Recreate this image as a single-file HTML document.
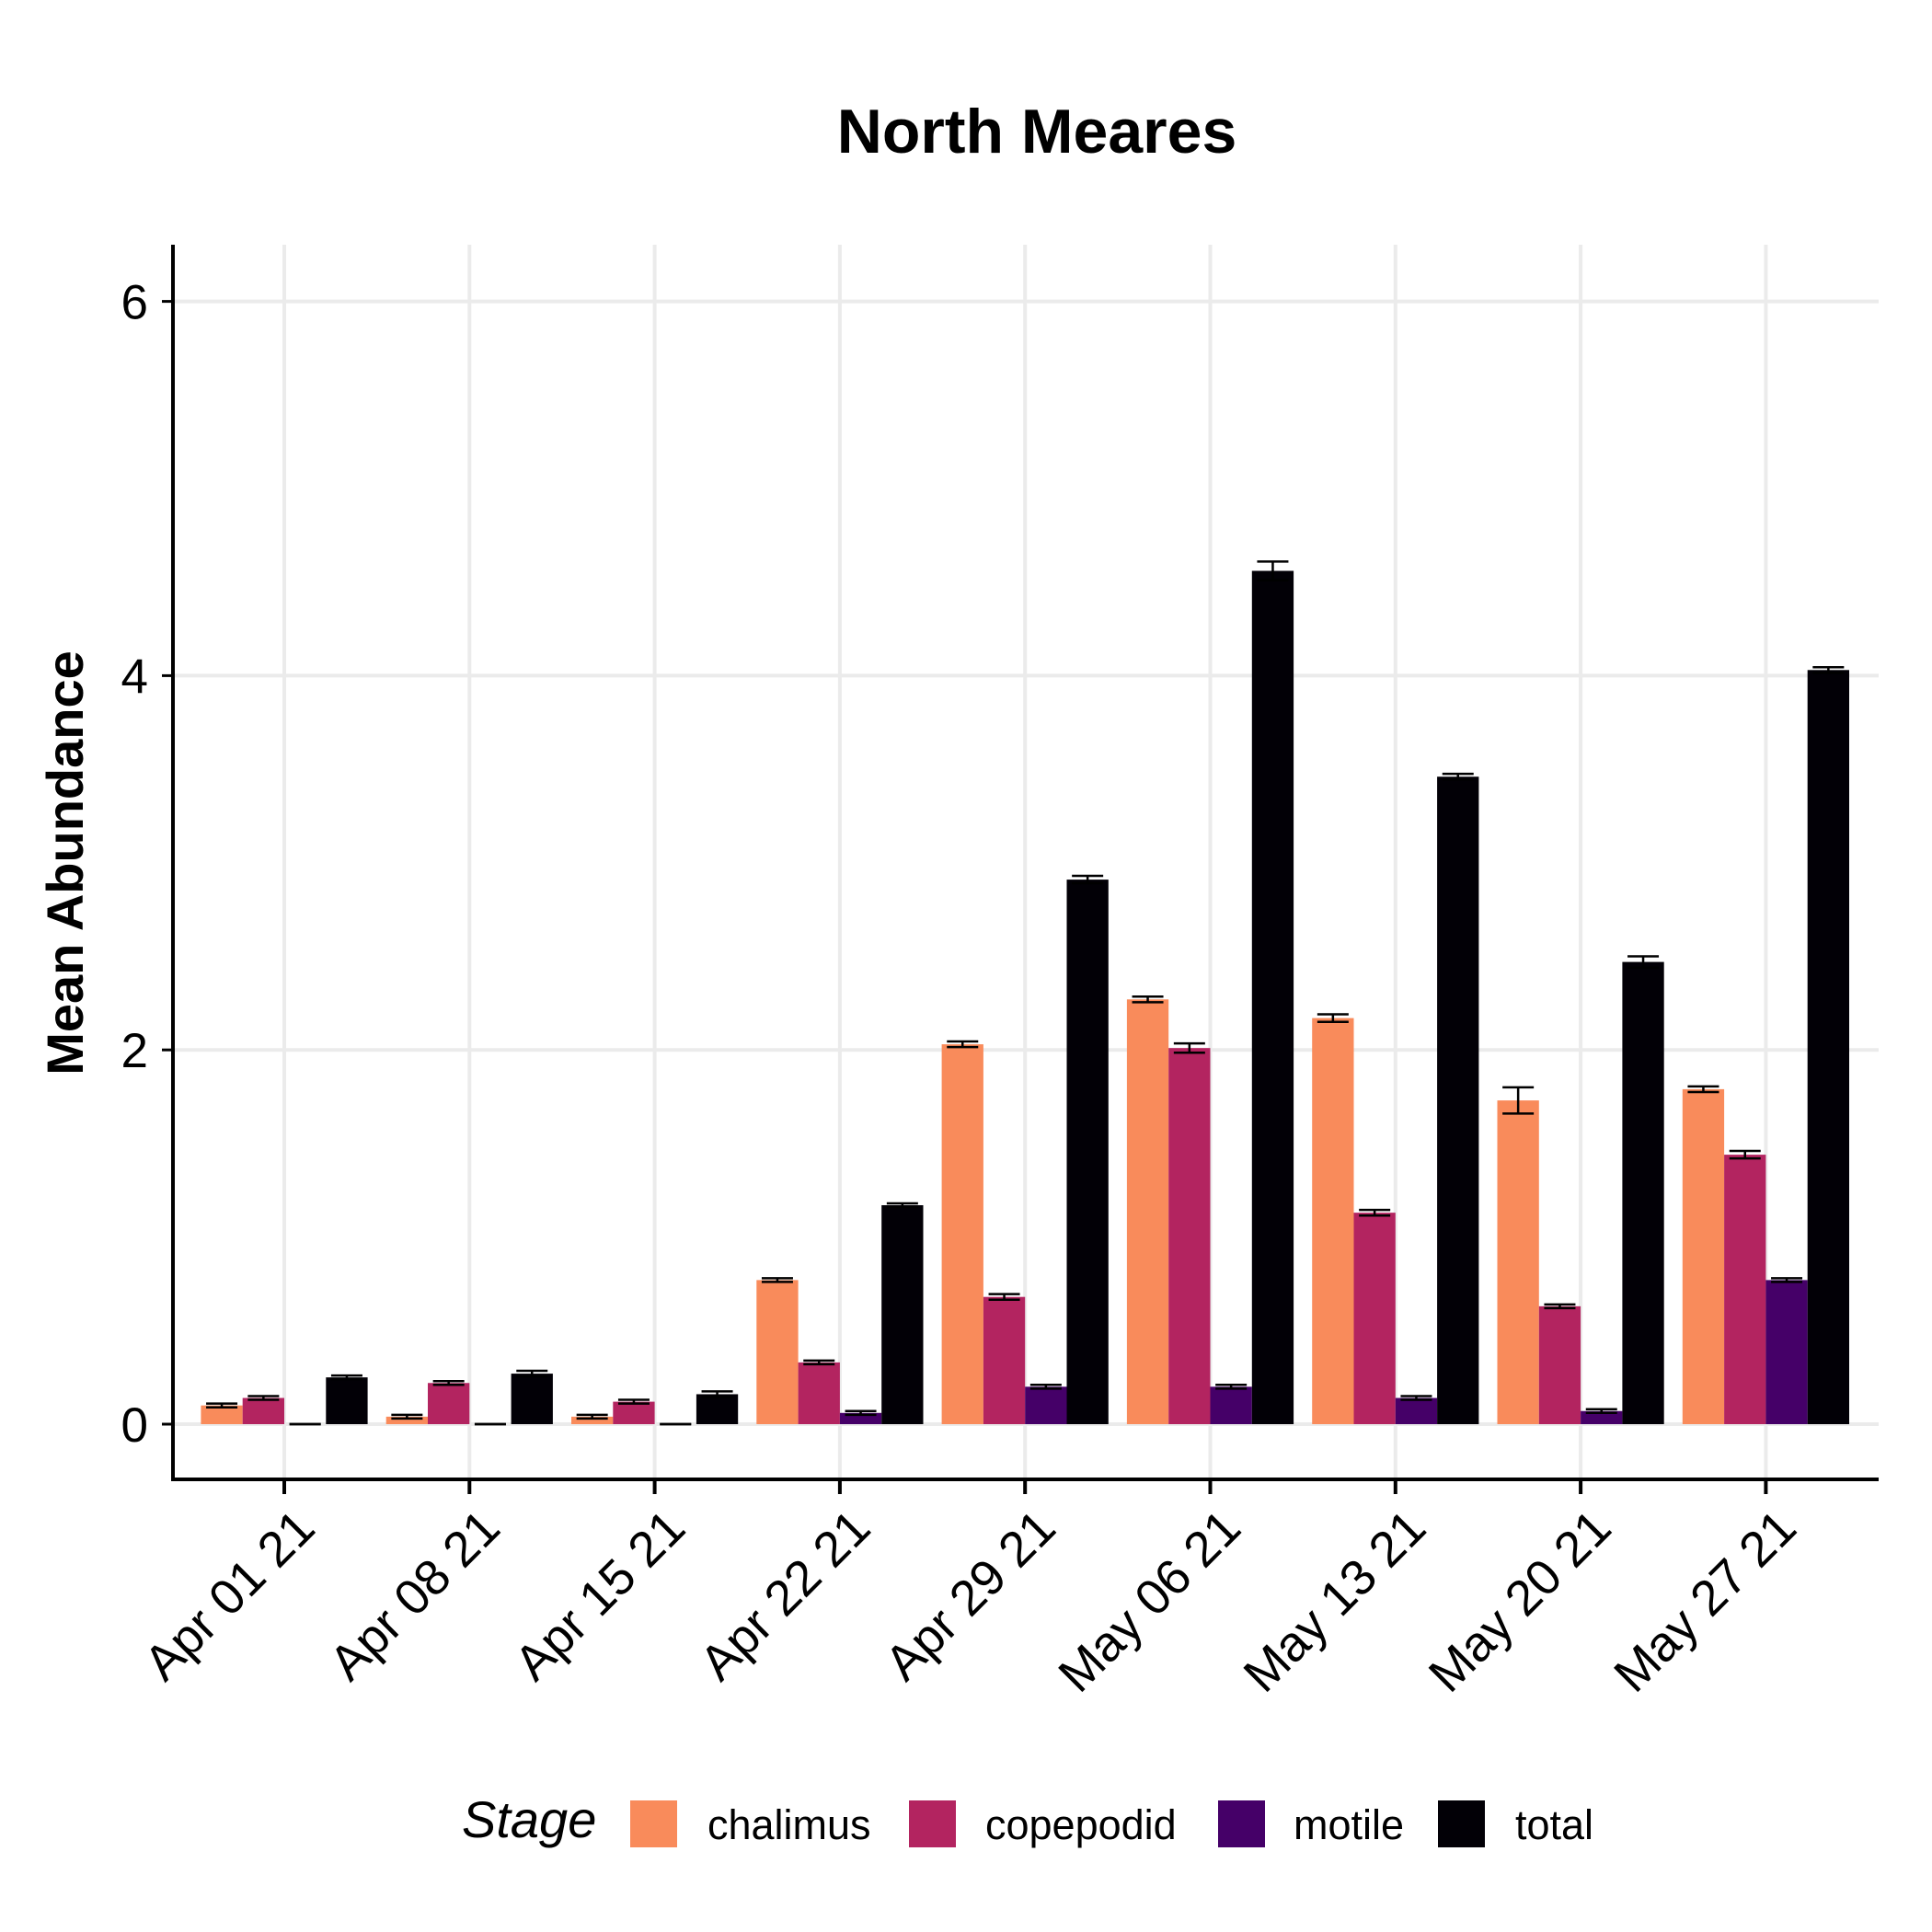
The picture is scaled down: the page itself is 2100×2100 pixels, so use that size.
<!DOCTYPE html>
<html><head><meta charset="utf-8"><style>
html,body{margin:0;padding:0;background:#fff;}
svg{display:block;font-family:"Liberation Sans",Arial,sans-serif;}
</style></head><body>
<svg id="chart" width="2100" height="2100" viewBox="0 0 2100 2100">
<text x="1127" y="166" text-anchor="middle" font-size="68" font-weight="bold">North Meares</text>
<text transform="translate(90,938) rotate(-90)" text-anchor="middle" font-size="56" font-weight="bold">Mean Abundance</text>
<g id="grid"></g><g id="bars"></g><g id="axes"></g>
<g id="legend">
<text x="502" y="1997" font-size="56" font-style="italic">Stage</text>
</g>
</svg>
<script>
const categories=["Apr 01 21","Apr 08 21","Apr 15 21","Apr 22 21","Apr 29 21","May 06 21","May 13 21","May 20 21","May 27 21"];
const seriesNames=["chalimus","copepodid","motile","total"];
const chalimus=[0.10,0.04,0.04,0.77,2.03,2.27,2.17,1.73,1.79];
const copepodid=[0.14,0.22,0.12,0.33,0.68,2.01,1.13,0.63,1.44];
const motile=[0,0,0,0.06,0.20,0.20,0.14,0.07,0.77];
const total=[0.25,0.27,0.16,1.17,2.91,4.56,3.46,2.47,4.03];
const errChalimus=[0.01,0.01,0.01,0.01,0.015,0.015,0.02,0.07,0.015];
const errCopepodid=[0.01,0.01,0.01,0.01,0.015,0.025,0.015,0.01,0.02];
const errMotile=[0,0,0,0.01,0.01,0.01,0.01,0.01,0.01];
const errTotal=[0.01,0.015,0.015,0.01,0.02,0.05,0.015,0.03,0.015];
const yTicks=[0,2,4,6];
const colors=["#F98B5B","#B32460","#450068","#020006"];
const NS="http://www.w3.org/2000/svg";
const X0=188,X1=2042,Ytop=266,Ybot=1608;
const y=v=>1548-v*203.4;
const xc=i=>309+i*201.3;
const bw=45.3;
function mk(t,a,p){const e=document.createElementNS(NS,t);for(const k in a)e.setAttribute(k,a[k]);p.appendChild(e);return e;}
const grid=document.getElementById('grid'),bars=document.getElementById('bars'),axes=document.getElementById('axes'),legend=document.getElementById('legend');
yTicks.forEach(t=>{
 const l=mk('line',{x1:X0,x2:X1,y1:y(t),y2:y(t),stroke:'#ebebeb','stroke-width':4},grid);
 
 
 const tk=mk('line',{x1:X0-12,x2:X0,y1:y(t),y2:y(t),stroke:'#000','stroke-width':3},axes);
 
 
 const tx=mk('text',{x:X0-27,y:y(t)+19,'text-anchor':'end','font-size':53},axes);
 tx.textContent=t;
 
 
});
categories.forEach((c,i)=>{
 const l=mk('line',{x1:xc(i),x2:xc(i),y1:Ytop,y2:Ybot,stroke:'#ebebeb','stroke-width':4},grid);
 
 
 const tk=mk('line',{x1:xc(i),x2:xc(i),y1:Ybot,y2:Ybot+16,stroke:'#000','stroke-width':4},axes);
 
 
 const tx=mk('text',{x:0,y:0,'text-anchor':'end','font-size':54,transform:`translate(${xc(i)+36},${Ybot+56}) rotate(-45)`},axes);
 tx.textContent=c;
 
 
});
const series=[chalimus,copepodid,motile,total];
const errs=[errChalimus,errCopepodid,errMotile,errTotal];
series.forEach((s,j)=>{
 s.forEach((v,i)=>{
  const bx=xc(i)-2*bw+j*bw;
  const r=mk('rect',{x:bx,y:Math.min(y(v),y(0)),width:bw,height:Math.max(Math.abs(y(0)-y(v)),0),fill:colors[j]},bars);
  
  
  const e=errs[j][i],cx=bx+bw/2,hw=17;
  const g=mk('g',{stroke:'#000','stroke-width':2.5},bars);
  
  
  mk('line',{x1:cx-hw,x2:cx+hw,y1:y(v+e),y2:y(v+e)},g);
  mk('line',{x1:cx-hw,x2:cx+hw,y1:y(v-e),y2:y(v-e)},g);
  mk('line',{x1:cx,x2:cx,y1:y(v+e),y2:y(v-e)},g);
 });
});
const ya=mk('line',{x1:X0,x2:X0,y1:Ytop,y2:Ybot,stroke:'#000','stroke-width':4},axes);


const xa=mk('line',{x1:X0-2,x2:X1,y1:Ybot,y2:Ybot,stroke:'#000','stroke-width':4},axes);


const keyX=[685,988,1324,1563],labX=[769,1071,1406,1647];
seriesNames.forEach((n,j)=>{
 const r=mk('rect',{x:keyX[j],y:1957,width:51,height:51,fill:colors[j]},legend);
 
 
 const t=mk('text',{x:labX[j],y:1999,'font-size':45},legend);
 t.textContent=n;
 
 
});
</script>
</body></html>
